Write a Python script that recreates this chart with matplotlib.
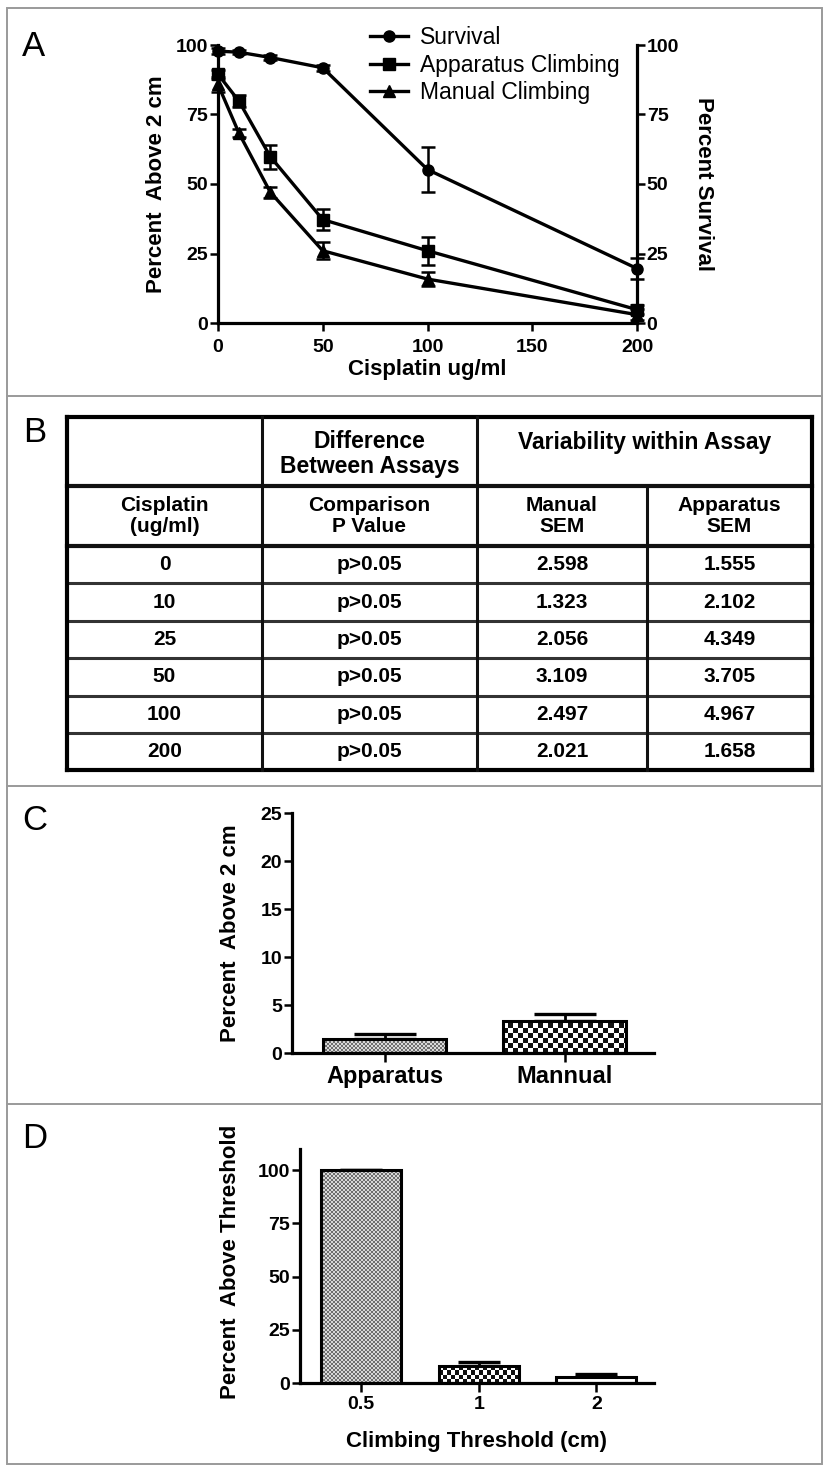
import numpy as np
import matplotlib
matplotlib.use("Agg")
import matplotlib.pyplot as plt
from matplotlib.lines import Line2D
from matplotlib.patches import Rectangle
from matplotlib.colors import ListedColormap

plt.rcParams['font.family'] = ['Liberation Sans', 'DejaVu Sans']

# ---------------- data ----------------
dose = [0, 10, 25, 50, 100, 200]
survival = [97.8, 97.4, 95.5, 91.8, 55.2, 19.6]
survival_err = [1.0, 0.8, 0.8, 1.0, 8.0, 3.7]
apparatus = [89.5, 79.8, 59.8, 37.2, 26.0, 4.8]
manual = [85.8, 68.3, 47.0, 26.0, 15.8, 3.0]

table_dose = ['0', '10', '25', '50', '100', '200']
table_p = ['p>0.05'] * 6
manual_sem = [2.598, 1.323, 2.056, 3.109, 2.497, 2.021]
apparatus_sem = [1.555, 2.102, 4.349, 3.705, 4.967, 1.658]

c_labels = ['Apparatus', 'Mannual']
c_values = [1.45, 3.3]
c_err = [0.55, 0.75]

d_labels = ['0.5', '1', '2']
d_values = [100.0, 8.0, 3.0]
d_err = [0.0, 2.0, 1.0]

# ---------------- layout helpers ----------------
W, H = 824, 1465
fig = plt.figure(figsize=(W / 100, H / 100), dpi=100)
fig.patch.set_facecolor('white')


def rect(l, t, r, b):
    return [l / W, 1 - b / H, (r - l) / W, (b - t) / H]


def fx(x):
    return x / W


def fy(y):
    return 1 - y / H


TICK = 14
LAB = 16
SPW = 2.3

# panel frames
frame = fig.add_axes([0, 0, 1, 1], zorder=-10)
frame.set_xlim(0, W)
frame.set_ylim(H, 0)
frame.axis('off')
frame.add_patch(Rectangle((7, 8), W - 9, H - 9, fill=False, ec='#9a9a9a', lw=1.4))
for yy in [396, 786, 1104]:
    frame.plot([7, W - 2], [yy, yy], color='#9a9a9a', lw=1.4)

for letter, (x, y) in zip('ABCD', [(34, 46), (35, 432), (35, 821), (35, 1138)]):
    fig.text(fx(x), fy(y), letter, fontsize=25, ha='center', va='center')


def style_axis(ax):
    ax.tick_params(direction='out', length=5.5, width=1.8, labelsize=TICK, pad=1.5)
    for lab in ax.get_xticklabels() + ax.get_yticklabels():
        lab.set_fontweight('bold')


# ---------------- Panel A ----------------
axA = fig.add_axes(rect(218, 45, 637, 323))
axA.set_xlim(0, 200)
axA.set_ylim(0, 100)
axA.set_xticks([0, 50, 100, 150, 200])
axA.set_yticks([0, 25, 50, 75, 100])
for s in ['top', 'right']:
    axA.spines[s].set_visible(False)
for s in ['left', 'bottom']:
    axA.spines[s].set_linewidth(SPW)

kw = dict(color='black', lw=2.4, capsize=5, elinewidth=1.8, capthick=1.8, clip_on=False, markersize=8)
axA.errorbar(dose, survival, yerr=survival_err, marker='o', **kw)
axA.errorbar(dose, apparatus, yerr=apparatus_sem, marker='s', **kw)
axA.errorbar(dose, manual, yerr=manual_sem, marker='^', **kw)
style_axis(axA)
axA.tick_params(axis='x', pad=6)
axA.set_xlabel('Cisplatin ug/ml', fontsize=LAB, fontweight='bold', labelpad=2)
axA.set_ylabel('Percent  Above 2 cm', fontsize=LAB, fontweight='bold')
axA.yaxis.label.set_va('center')
axA.yaxis.set_label_coords((156 - 218) / 419, 0.5)

axA2 = axA.twinx()
axA2.set_ylim(0, 100)
axA2.set_yticks([0, 25, 50, 75, 100])
for s in ['top', 'left', 'bottom']:
    axA2.spines[s].set_visible(False)
axA2.spines['right'].set_linewidth(SPW)
style_axis(axA2)
axA2.set_ylabel('Percent Survival', fontsize=LAB, fontweight='bold', rotation=270)
axA2.yaxis.label.set_va('center')
axA2.yaxis.set_label_coords((703 - 218) / 419, 0.5)

handles = [Line2D([], [], color='black', lw=2.4, marker=m, markersize=8) for m in ['o', 's', '^']]
axA.legend(handles, ['Survival', 'Apparatus Climbing', 'Manual Climbing'],
           loc='upper left', bbox_to_anchor=(fx(370), fy(26)), bbox_transform=fig.transFigure,
           frameon=False, fontsize=16.5, handlelength=1.65, handletextpad=0.55,
           labelspacing=0.2, borderpad=0, borderaxespad=0)

# ---------------- Panel B (table) ----------------
axB = fig.add_axes([0, 0, 1, 1], zorder=-5)
axB.set_xlim(0, W)
axB.set_ylim(H, 0)
axB.axis('off')
cols = [67, 262, 477, 647, 812]
rows = [417, 486, 546, 583, 621, 658, 696, 733, 770]
for i, yy in enumerate(rows):
    if i in (0, len(rows) - 1):
        lw, c = 3.0, 'black'
    elif i in (1, 2):
        lw, c = 3.0, '#111111'
    else:
        lw, c = 2.2, '#333333'
    axB.plot([cols[0], cols[-1]], [yy, yy], color=c, lw=lw, solid_capstyle='projecting')
axB.plot([cols[0], cols[0]], [rows[0], rows[-1]], color='black', lw=3.0)
axB.plot([cols[-1], cols[-1]], [rows[0], rows[-1]], color='black', lw=3.0)
axB.plot([cols[1], cols[1]], [rows[0], rows[-1]], color='#111111', lw=2.2)
axB.plot([cols[2], cols[2]], [rows[0], rows[-1]], color='#111111', lw=2.2)
axB.plot([cols[3], cols[3]], [rows[1], rows[-1]], color='#111111', lw=2.2)

tkw = dict(ha='center', va='center', fontweight='bold', linespacing=1.1)
axB.text((cols[1] + cols[2]) / 2, 454, 'Difference\nBetween Assays', fontsize=16.5, **tkw)
axB.text((cols[2] + cols[4]) / 2, 443, 'Variability within Assay', fontsize=16.5, **tkw)
hdr = ['Cisplatin\n(ug/ml)', 'Comparison\nP Value', 'Manual\nSEM', 'Apparatus\nSEM']
for j, h in enumerate(hdr):
    axB.text((cols[j] + cols[j + 1]) / 2, (rows[1] + rows[2]) / 2, h, fontsize=15, **tkw)
for i in range(6):
    yc = (rows[2 + i] + rows[3 + i]) / 2
    vals = [table_dose[i], table_p[i], f'{manual_sem[i]:.3f}', f'{apparatus_sem[i]:.3f}']
    for j, v in enumerate(vals):
        axB.text((cols[j] + cols[j + 1]) / 2, yc, v, fontsize=15, **tkw)


# ---------------- texture helper ----------------
def texture(ax, patch, cell, c1, c2):
    x0, y0 = patch.get_x(), patch.get_y()
    w, h = patch.get_width(), patch.get_height()
    if h <= 0:
        return
    p0 = ax.transData.transform((x0, y0))
    p1 = ax.transData.transform((x0 + w, y0 + h))
    wpx, hpx = p1[0] - p0[0], p1[1] - p0[1]
    nx, ny = int(np.ceil(wpx / cell)) + 1, int(np.ceil(hpx / cell)) + 1
    dx, dy = w / wpx * cell, h / hpx * cell
    ii, jj = np.meshgrid(np.arange(nx), np.arange(ny))
    chk = ((ii + jj) % 2).astype(float)
    cmap = ListedColormap([c1, c2])
    im = ax.imshow(chk, cmap=cmap, extent=(x0, x0 + nx * dx, y0, y0 + ny * dy),
                   origin='lower', interpolation='nearest', aspect='auto', zorder=1.5, vmin=0, vmax=1)
    im.set_clip_path(patch)


def bar_panel(ax, labels, values, errs, width, capsize):
    x = np.arange(len(labels))
    ax.errorbar(x, values, yerr=[np.zeros(len(values)), errs], fmt='none', ecolor='black',
                elinewidth=2.0, capsize=capsize, capthick=2.4, zorder=0.5)
    base = ax.bar(x, values, width=width, color='white', edgecolor='none', zorder=1)
    ax.bar(x, values, width=width, fill=False, edgecolor='black', linewidth=2.2, zorder=2)
    ax.set_xticks(x)
    ax.set_xticklabels(labels)
    for s in ['top', 'right']:
        ax.spines[s].set_visible(False)
    for s in ['left', 'bottom']:
        ax.spines[s].set_linewidth(SPW)
    ax.spines['bottom'].set_zorder(3)
    return base


# ---------------- Panel C ----------------
axC = fig.add_axes(rect(292, 813, 654, 1053))
axC.set_xlim(-0.514, 1.497)
axC.set_ylim(0, 25)
axC.set_yticks([0, 5, 10, 15, 20, 25])
barsC = bar_panel(axC, c_labels, c_values, c_err, 0.68, 22)
style_axis(axC)
axC.tick_params(axis='x', labelsize=17, pad=2, length=6.5)
axC.set_ylabel('Percent  Above 2 cm', fontsize=LAB, fontweight='bold')
axC.yaxis.label.set_va('center')
axC.yaxis.set_label_coords((230 - 292) / 362, 0.5)
texture(axC, barsC.patches[0], 2, '#6e6e6e', '#d8d8d8')
texture(axC, barsC.patches[1], 5, '#101010', '#ffffff')

# ---------------- Panel D ----------------
axD = fig.add_axes(rect(300, 1149, 654, 1383))
axD.set_xlim(-0.52, 2.49)
axD.set_ylim(0, 110)
axD.set_yticks([0, 25, 50, 75, 100])
barsD = bar_panel(axD, d_labels, d_values, d_err, 0.68, 15)
style_axis(axD)
axD.tick_params(axis='x', pad=3, length=6.5)
axD.set_xlabel('Climbing Threshold (cm)', fontsize=LAB, fontweight='bold', labelpad=13)
axD.set_ylabel('Percent  Above Threshold', fontsize=LAB, fontweight='bold')
axD.yaxis.label.set_va('center')
axD.yaxis.set_label_coords((230 - 300) / 354, (1383 - 1262) / 234)
texture(axD, barsD.patches[0], 2, '#6e6e6e', '#d8d8d8')
texture(axD, barsD.patches[1], 4, '#101010', '#ffffff')

for ax in (axC, axD):
    for lab in ax.get_xticklabels() + ax.get_yticklabels():
        lab.set_fontweight('bold')

fig.savefig('out.png', dpi=100, facecolor='white')
